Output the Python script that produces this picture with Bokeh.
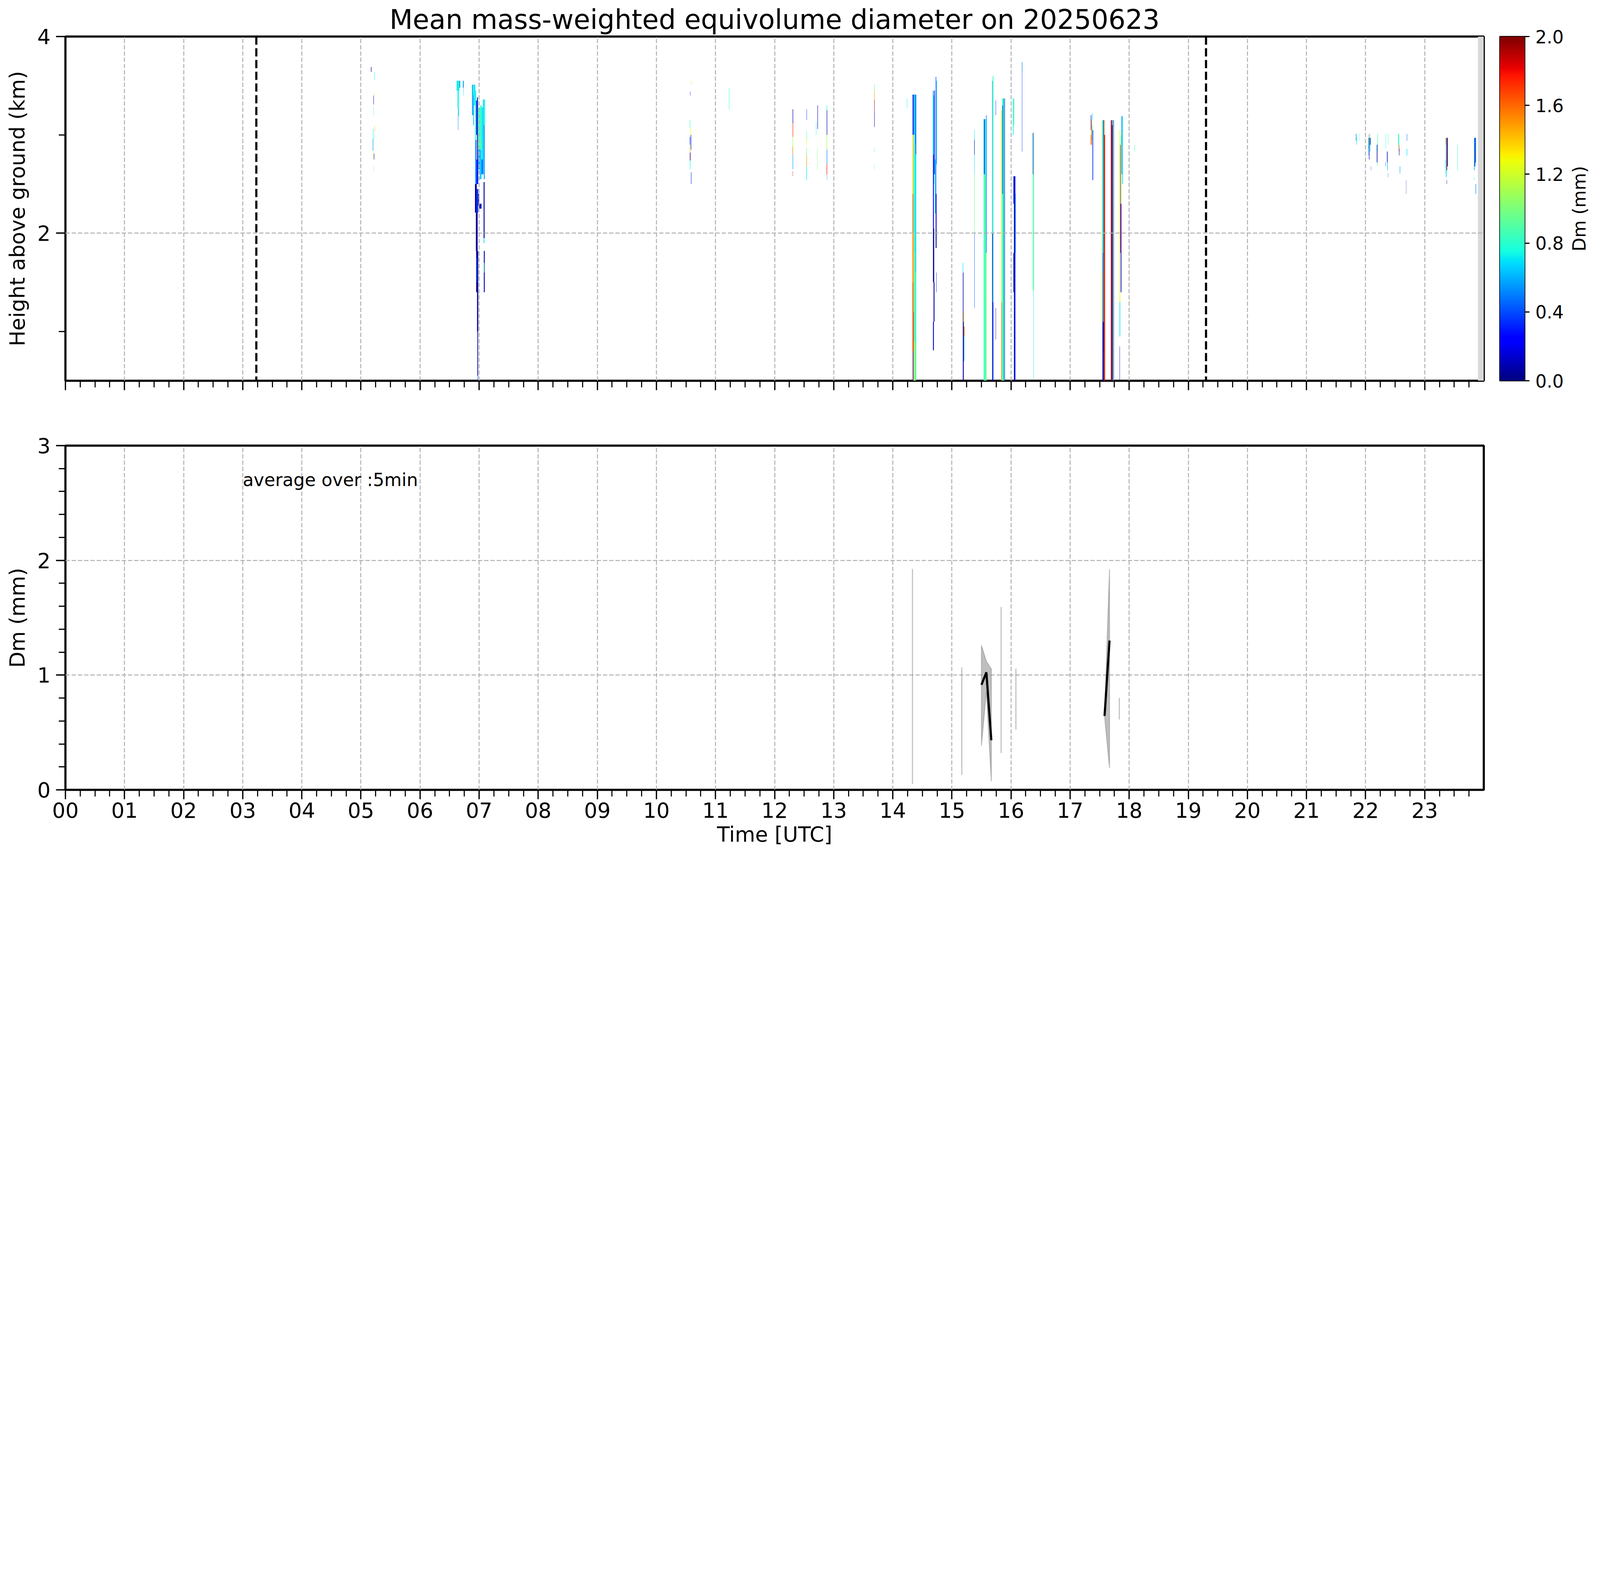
import numpy as np
from bokeh.plotting import figure
from bokeh.models import (ColumnDataSource, LinearColorMapper, FixedTicker, Span, Label,
                          Range1d, PrintfTickFormatter, LinearAxis, CustomJSTickFormatter)
from bokeh.layouts import column, row
from bokeh.embed import file_html
from bokeh.resources import INLINE
from bokeh.core.properties import value

# ---------------- data ----------------
TITLE = "Mean mass-weighted equivolume diameter on 20250623"
sunrise_h = 3.23
sunset_h = 19.30
missing_start_h = 23.9
missing_end_h = 24.0

# time-height cells: (t_start [h], t_end [h], h_bottom [km], h_top [km], Dm [mm])
cells_0512 = [
    (5.170, 5.178, 3.64, 3.69, 0.10), (5.228, 5.234, 3.56, 3.64, 0.75),
    (5.222, 5.226, 3.40, 3.44, 1.25), (5.212, 5.218, 3.31, 3.40, 0.08),
    (5.210, 5.216, 3.20, 3.28, 0.95), (5.228, 5.234, 3.04, 3.09, 1.40),
    (5.205, 5.212, 2.96, 3.06, 0.75), (5.200, 5.208, 2.84, 2.96, 0.55),
    (5.228, 5.234, 2.96, 3.00, 0.95), (5.210, 5.216, 2.75, 2.84, 1.20),
    (5.220, 5.226, 2.75, 2.81, 0.10), (5.214, 5.218, 2.62, 2.68, 1.00),
]
cells_0637 = [
    (6.617, 6.630, 3.45, 3.55, 0.85), (6.630, 6.645, 3.45, 3.55, 0.65),
    (6.645, 6.665, 3.45, 3.55, 0.75), (6.665, 6.680, 3.48, 3.55, 0.55),
    (6.635, 6.645, 3.28, 3.45, 0.70), (6.648, 6.660, 3.19, 3.45, 0.75),
    (6.643, 6.648, 3.05, 3.28, 0.45), (6.725, 6.740, 3.48, 3.55, 0.55),
    (6.735, 6.740, 3.40, 3.48, 0.65),
]
cells_0700 = [
    (6.880, 6.900, 3.20, 3.51, 0.60), (6.900, 6.915, 3.40, 3.51, 0.75),
    (6.900, 6.910, 3.10, 3.40, 0.55), (6.915, 6.935, 3.30, 3.51, 0.70),
    (6.935, 6.950, 2.95, 3.45, 0.75), (6.950, 6.965, 3.00, 3.35, 0.35),
    (6.965, 6.980, 2.75, 3.38, 0.10), (6.980, 7.000, 2.85, 3.28, 0.80),
    (7.000, 7.020, 2.95, 3.28, 0.85), (7.020, 7.045, 2.85, 3.30, 0.80),
    (7.045, 7.065, 2.75, 3.28, 0.70), (7.065, 7.080, 2.60, 3.36, 0.65),
    (7.080, 7.100, 3.10, 3.36, 0.75), (7.080, 7.095, 2.55, 3.10, 0.55),
    (7.000, 7.030, 2.85, 2.95, 0.95),
    (6.935, 6.955, 2.50, 2.95, 0.50), (6.955, 6.985, 2.50, 2.75, 0.30),
    (6.985, 7.010, 2.65, 2.85, 0.55), (7.010, 7.040, 2.55, 2.85, 0.65),
    (7.040, 7.065, 2.60, 2.75, 0.45),
    (6.930, 6.960, 2.21, 2.50, 0.06), (6.960, 6.985, 2.21, 2.45, 0.35),
    (6.985, 7.000, 2.28, 2.40, 0.15), (7.000, 7.040, 2.25, 2.30, 0.08),
    (6.945, 6.975, 1.82, 2.21, 0.05), (6.950, 6.985, 1.40, 1.82, 0.05),
    (6.958, 6.970, 1.50, 1.75, 0.40), (6.965, 6.985, 1.00, 1.40, 0.05),
    (6.970, 6.982, 0.55, 1.00, 0.10), (6.975, 6.982, 0.50, 0.55, 0.40),
    (7.076, 7.092, 1.95, 2.52, 0.06), (7.078, 7.090, 1.90, 1.95, 0.70),
    (7.080, 7.095, 1.40, 1.82, 0.10), (7.082, 7.090, 1.60, 1.70, 0.85),
]
cells_1034 = [
    (10.585, 10.590, 3.51, 3.55, 1.15), (10.570, 10.575, 3.40, 3.44, 0.30),
    (10.565, 10.572, 3.07, 3.15, 0.85), (10.572, 10.580, 2.98, 3.07, 1.25),
    (10.565, 10.572, 2.90, 2.98, 0.10), (10.568, 10.575, 2.82, 2.90, 1.45),
    (10.565, 10.572, 2.74, 2.82, 0.45), (10.572, 10.578, 2.74, 2.82, 1.85),
    (10.568, 10.576, 2.65, 2.74, 0.75), (10.582, 10.590, 2.85, 3.00, 0.35),
    (10.585, 10.592, 2.50, 2.62, 0.35), (11.228, 11.234, 3.26, 3.48, 0.80),
]
cells_1218 = [
    (12.305, 12.313, 3.12, 3.26, 0.08), (12.305, 12.313, 2.98, 3.12, 1.70),
    (12.305, 12.313, 2.88, 2.98, 1.10), (12.303, 12.311, 2.80, 2.88, 1.55),
    (12.305, 12.313, 2.65, 2.80, 0.60), (12.306, 12.310, 2.58, 2.63, 1.85),
    (12.540, 12.546, 3.15, 3.26, 0.40), (12.540, 12.546, 2.95, 3.04, 0.90),
    (12.540, 12.546, 2.89, 2.95, 1.30), (12.538, 12.546, 2.78, 2.87, 1.00),
    (12.538, 12.546, 2.68, 2.78, 1.50), (12.538, 12.546, 2.54, 2.68, 0.70),
    (12.725, 12.732, 3.06, 3.30, 0.10), (12.700, 12.705, 3.00, 3.13, 0.75),
    (12.720, 12.725, 2.65, 2.87, 1.00), (12.880, 12.888, 3.25, 3.30, 0.75),
    (12.882, 12.890, 3.00, 3.25, 0.08), (12.880, 12.888, 2.85, 3.00, 1.10),
    (12.882, 12.890, 2.70, 2.85, 0.50), (12.880, 12.888, 2.60, 2.70, 1.80),
    (12.884, 12.888, 2.54, 2.60, 0.50),
    (13.686, 13.692, 3.45, 3.52, 0.90), (13.686, 13.692, 3.36, 3.45, 1.50),
    (13.686, 13.692, 3.24, 3.36, 1.90), (13.686, 13.692, 3.08, 3.24, 0.10),
    (13.686, 13.692, 2.82, 2.86, 0.95), (13.688, 13.692, 2.65, 2.70, 0.80),
]
cells_1414 = [
    (14.240, 14.245, 3.27, 3.37, 0.70),
    (14.335, 14.350, 3.00, 3.41, 0.15), (14.350, 14.365, 3.00, 3.41, 0.55),
    (14.365, 14.380, 2.90, 3.41, 0.70), (14.380, 14.396, 2.80, 3.41, 0.45),
    (14.335, 14.345, 2.40, 3.00, 1.45), (14.345, 14.360, 2.00, 3.00, 1.05),
    (14.360, 14.375, 1.80, 2.90, 0.80), (14.375, 14.396, 1.60, 2.80, 0.70),
    (14.335, 14.345, 1.50, 2.40, 1.75), (14.345, 14.360, 1.20, 2.00, 1.35),
    (14.360, 14.375, 0.90, 1.80, 0.95), (14.375, 14.396, 0.50, 1.60, 0.75),
    (14.335, 14.345, 0.80, 1.50, 1.90), (14.345, 14.360, 0.50, 1.20, 1.55),
    (14.360, 14.375, 0.50, 0.90, 1.20), (14.335, 14.345, 0.50, 0.80, 0.35),
    (14.678, 14.690, 2.80, 3.45, 0.55), (14.690, 14.700, 2.50, 3.40, 0.70),
    (14.700, 14.712, 2.60, 3.45, 0.30), (14.725, 14.735, 2.40, 3.59, 0.45),
    (14.735, 14.745, 2.70, 3.55, 0.60), (14.680, 14.695, 2.05, 2.80, 0.20),
    (14.712, 14.725, 2.20, 2.75, 0.65), (14.725, 14.740, 2.05, 2.40, 0.15),
    (14.680, 14.700, 1.50, 2.05, 0.05), (14.690, 14.705, 1.10, 1.50, 0.06),
    (14.680, 14.695, 0.81, 1.10, 0.15), (14.725, 14.740, 1.85, 2.05, 0.05),
    (14.735, 14.740, 1.40, 1.60, 0.10),
]
cells_1510 = [
    (15.185, 15.192, 1.60, 1.70, 0.70), (15.185, 15.195, 1.10, 1.60, 0.08),
    (15.195, 15.205, 0.95, 1.20, 1.35), (15.185, 15.200, 0.50, 1.10, 0.05),
    (15.200, 15.210, 0.70, 0.95, 0.60), (15.205, 15.212, 0.95, 1.05, 1.80),
    (15.380, 15.386, 2.60, 3.05, 0.70), (15.380, 15.386, 2.00, 2.60, 0.95),
    (15.380, 15.386, 1.24, 2.00, 0.45), (15.378, 15.384, 2.80, 2.95, 0.08),
    (15.537, 15.550, 0.50, 3.16, 0.85), (15.550, 15.565, 0.50, 3.16, 0.95),
    (15.565, 15.578, 0.50, 3.16, 0.75), (15.578, 15.588, 1.80, 3.20, 0.50),
    (15.578, 15.588, 0.50, 1.80, 1.05), (15.540, 15.560, 2.60, 3.16, 0.45),
    (15.681, 15.690, 2.00, 3.55, 0.60), (15.690, 15.703, 2.00, 3.60, 0.85),
    (15.681, 15.692, 0.50, 2.00, 0.06), (15.692, 15.703, 0.50, 1.30, 0.35),
    (15.692, 15.703, 1.30, 2.00, 0.65), (15.740, 15.745, 0.92, 1.24, 0.10),
    (15.740, 15.745, 3.20, 3.35, 0.30),
    (15.835, 15.850, 0.50, 3.25, 1.15), (15.850, 15.865, 0.50, 3.37, 0.95),
    (15.865, 15.880, 0.50, 3.37, 0.65), (15.880, 15.890, 0.50, 3.37, 0.85),
    (15.890, 15.897, 0.50, 3.37, 0.30), (15.835, 15.845, 0.50, 1.30, 1.55),
    (15.855, 15.862, 2.40, 3.30, 0.10),
]
cells_1602 = [
    (16.033, 16.045, 3.00, 3.37, 0.75), (16.045, 16.055, 3.10, 3.37, 0.90),
    (16.040, 16.050, 2.30, 2.58, 0.30), (16.050, 16.065, 0.50, 2.58, 0.08),
    (16.065, 16.075, 0.50, 2.58, 0.35), (16.040, 16.050, 1.40, 1.80, 0.06),
    (16.075, 16.082, 1.80, 2.40, 0.55),
    (16.185, 16.190, 2.83, 3.74, 0.35), (16.190, 16.194, 3.65, 3.74, 0.85),
    (16.368, 16.378, 2.60, 3.02, 0.30), (16.378, 16.390, 1.42, 3.02, 0.95),
    (16.368, 16.378, 1.42, 2.60, 0.85), (16.380, 16.385, 0.50, 1.42, 0.70),
]
cells_1721 = [
    (17.350, 17.358, 3.05, 3.20, 0.10), (17.358, 17.368, 2.90, 3.15, 1.60),
    (17.368, 17.378, 2.95, 3.10, 0.95), (17.378, 17.390, 2.54, 3.05, 0.35),
    (17.372, 17.380, 3.15, 3.22, 0.70), (17.350, 17.358, 2.90, 3.00, 1.70),
    (17.536, 17.548, 1.60, 3.15, 1.10), (17.548, 17.558, 1.80, 3.15, 0.75),
    (17.558, 17.570, 0.80, 3.15, 0.45), (17.570, 17.580, 0.50, 3.15, 1.70),
    (17.580, 17.592, 0.50, 3.00, 1.85), (17.536, 17.550, 1.10, 1.60, 1.30),
    (17.548, 17.570, 0.50, 1.10, 0.06), (17.550, 17.558, 1.10, 1.80, 0.40),
    (17.688, 17.697, 0.50, 3.15, 1.75), (17.697, 17.708, 0.50, 3.15, 0.06),
    (17.708, 17.718, 0.50, 3.10, 1.90), (17.718, 17.728, 0.50, 3.15, 0.30),
    (17.728, 17.736, 0.50, 3.15, 1.20), (17.736, 17.744, 0.50, 3.15, 0.55),
    (17.837, 17.848, 1.30, 3.05, 1.25), (17.848, 17.856, 1.80, 2.90, 1.80),
    (17.856, 17.868, 1.40, 2.30, 0.25), (17.868, 17.880, 2.60, 3.19, 0.55),
    (17.880, 17.892, 2.50, 3.19, 0.70), (17.837, 17.848, 0.95, 1.30, 0.70),
    (17.837, 17.842, 0.50, 0.85, 0.08), (17.860, 17.868, 2.30, 3.00, 0.85),
    (18.090, 18.096, 2.83, 2.90, 0.85),
]
cells_2150 = [
    (21.835, 21.845, 2.94, 3.01, 0.55), (21.845, 21.852, 2.90, 2.97, 0.70),
    (21.898, 21.902, 2.94, 3.01, 0.75),
    (22.043, 22.050, 2.79, 2.97, 0.60), (22.050, 22.058, 2.86, 3.01, 0.80),
    (22.058, 22.066, 2.75, 2.97, 0.08), (22.066, 22.072, 2.90, 3.01, 1.60),
    (22.072, 22.080, 2.83, 2.97, 0.70), (22.080, 22.087, 2.90, 2.97, 0.10),
    (22.090, 22.094, 2.64, 2.68, 0.40),
    (22.190, 22.200, 2.72, 2.90, 0.08), (22.200, 22.208, 2.83, 3.01, 0.85),
    (22.195, 22.200, 2.68, 2.72, 0.90),
    (22.340, 22.345, 2.86, 3.01, 0.75), (22.378, 22.383, 2.90, 3.01, 0.85),
    (22.362, 22.372, 2.72, 2.83, 0.08), (22.366, 22.375, 2.64, 2.72, 0.65),
    (22.335, 22.340, 2.68, 2.72, 0.40), (22.380, 22.384, 2.57, 2.61, 0.45),
    (22.548, 22.558, 2.90, 3.01, 0.95), (22.558, 22.568, 2.86, 3.01, 0.75),
    (22.562, 22.570, 2.83, 2.90, 1.65), (22.565, 22.572, 2.79, 2.86, 0.10),
    (22.578, 22.585, 2.61, 2.68, 0.55),
    (22.697, 22.703, 2.94, 3.01, 0.45), (22.695, 22.703, 2.79, 2.86, 0.70),
    (22.686, 22.689, 2.40, 2.54, 0.08),
    (23.353, 23.360, 2.90, 2.97, 1.55), (23.360, 23.370, 2.57, 2.97, 0.65),
    (23.370, 23.380, 2.64, 2.97, 1.85), (23.380, 23.391, 2.68, 2.97, 0.06),
    (23.355, 23.362, 2.61, 2.75, 0.75), (23.372, 23.377, 2.50, 2.54, 0.10),
    (23.553, 23.559, 2.64, 2.90, 0.80),
    (23.835, 23.845, 2.64, 2.97, 0.60), (23.845, 23.855, 2.68, 2.97, 0.08),
    (23.855, 23.868, 2.72, 2.97, 0.45), (23.838, 23.842, 2.79, 2.83, 1.55),
    (23.835, 23.840, 2.54, 2.57, 0.70), (23.862, 23.870, 2.40, 2.50, 0.50),
]

# 5-minute averages at the ground (hours, mm)
avg_time = [14.333, 15.167, 15.500, 15.583, 15.667, 15.833, 16.083, 17.583, 17.667, 17.833]
avg_mean = [0.99, 0.60, 0.915, 1.024, 0.432, 0.96, 0.79, 0.644, 1.301, 0.71]
avg_min = [0.049, 0.130, 0.385, 0.859, 0.073, 0.321, 0.525, 0.644, 0.190, 0.613]
avg_max = [1.925, 1.067, 1.258, 1.120, 1.053, 1.594, 1.057, 0.644, 1.924, 0.802]

hour_ticks = list(range(24))
cbar_ticks = [0.0, 0.4, 0.8, 1.2, 1.6, 2.0]
cbar_label = "Dm (mm)"

# ---------------- styling ----------------
S = 4096.0 / 7442.0   # CSS px per reference pixel (page is photographed at a higher pixel ratio)
FONT = "DejaVu Sans"


def px(v):
    return int(round(v * S))


def fs(v):
    return "%.1fpx" % (v * S)


TICK_PX = fs(97)
SMALL_PX = fs(83)
LEFT = px(318) - 8
FRAME_W = px(6598)
FRAME_H = px(1600)
TOP_B = px(184) - 8
BOT_B = px(150)


def jet_palette(n=256):
    x = np.linspace(0, 1, n)
    r = np.interp(x, [0, 0.35, 0.66, 0.89, 1], [0, 0, 1, 1, 0.5])
    g = np.interp(x, [0, 0.125, 0.375, 0.64, 0.91, 1], [0, 0, 1, 1, 0, 0])
    b = np.interp(x, [0, 0.11, 0.34, 0.65, 1], [0.5, 1, 1, 0, 0])
    return ["#%02x%02x%02x" % (int(round(255 * a)), int(round(255 * c)), int(round(255 * d)))
            for a, c, d in zip(r, g, b)]


mapper = LinearColorMapper(palette=jet_palette(), low=0.0, high=2.0)


def style_axis(ax, label_size=TICK_PX):
    ax.axis_line_color = None
    ax.major_tick_out = px(44)
    ax.major_tick_in = 0
    ax.major_tick_line_width = 6 * S
    ax.major_tick_line_color = "black"
    ax.minor_tick_out = px(30)
    ax.minor_tick_in = 0
    ax.minor_tick_line_width = 5 * S
    ax.minor_tick_line_color = "black"
    ax.major_label_text_font = FONT
    ax.major_label_text_font_size = label_size
    ax.major_label_text_color = "black"
    ax.axis_label_text_font = FONT
    ax.axis_label_text_font_size = TICK_PX
    ax.axis_label_text_font_style = "normal"
    ax.axis_label_text_color = "black"


def style_grid(p, yticks, level):
    p.xgrid.ticker = FixedTicker(ticks=hour_ticks)
    p.ygrid.ticker = FixedTicker(ticks=yticks)
    for g in (p.xgrid[0], p.ygrid[0]):
        g.grid_line_color = "#b0b0b0"
        g.grid_line_width = 4.5 * S
        g.grid_line_dash = "%d %d" % (px(20), px(9))
        g.level = level


minor_x = [h + q for h in range(24) for q in (0.25, 0.5, 0.75)]
hour_fmt = CustomJSTickFormatter(code="var h = Math.round(tick); return (h < 10 ? '0' : '') + h;")
blank_fmt = CustomJSTickFormatter(code="return '';")

# ---------------- top panel ----------------
all_cells = (cells_0512 + cells_0637 + cells_0700 + cells_1034 + cells_1218 + cells_1414
             + cells_1510 + cells_1602 + cells_1721 + cells_2150)
mesh = ColumnDataSource(dict(
    left=[c[0] for c in all_cells], right=[c[1] for c in all_cells],
    bottom=[c[2] for c in all_cells], top=[c[3] for c in all_cells],
    dm=[c[4] for c in all_cells]))

top = figure(frame_width=FRAME_W, frame_height=FRAME_H, x_range=Range1d(0, 24),
             y_range=Range1d(0.5, 4.0), output_backend="svg", toolbar_location=None,
             min_border_left=LEFT, min_border_top=TOP_B, min_border_bottom=BOT_B,
             min_border_right=px(10))
top.title.text = TITLE
top.title.text_font = FONT
top.title.text_font_size = fs(125)
top.title.text_font_style = "normal"
top.title.text_color = "black"
top.title.align = "center"
top.title.standoff = px(14)
top.outline_line_color = "black"
top.outline_line_width = 10 * S
style_grid(top, [2], "annotation")

top.quad(left=missing_start_h, right=missing_end_h, bottom=0.5, top=4.0,
         fill_color="#d9d9d9", line_color=None)
top.quad(left="left", right="right", bottom="bottom", top="top", source=mesh,
         fill_color={"field": "dm", "transform": mapper}, line_color=None)

for loc in (sunrise_h, sunset_h):
    top.add_layout(Span(location=loc, dimension="height", line_color="black",
                        line_width=10 * S, line_dash="%d %d" % (px(38), px(17))))

top.xaxis.ticker = FixedTicker(ticks=hour_ticks, minor_ticks=minor_x)
top.xaxis.formatter = blank_fmt
top.yaxis.ticker = FixedTicker(ticks=[2, 4], minor_ticks=[1, 3])
style_axis(top.xaxis[0])
style_axis(top.yaxis[0])
top.xaxis.major_label_standoff = 0
top.yaxis.axis_label = "Height above ground (km)"
top.yaxis.major_label_standoff = px(26)
top.yaxis.axis_label_standoff = px(30)

# ---------------- colour bar ----------------
cb = figure(frame_width=px(117), frame_height=FRAME_H, x_range=Range1d(0, 1),
            y_range=Range1d(0, 2), output_backend="svg", toolbar_location=None,
            min_border_left=px(64), min_border_top=TOP_B, min_border_bottom=BOT_B,
            min_border_right=px(190))
cb.image(image=[np.linspace(0, 2, 256).reshape(256, 1)], x=0, y=0, dw=1, dh=2,
         color_mapper=mapper)
cb.xaxis.visible = False
cb.yaxis.visible = False
cb.xgrid.visible = False
cb.ygrid.visible = False
cb.outline_line_color = "black"
cb.outline_line_width = 5 * S
cax = LinearAxis(ticker=FixedTicker(ticks=cbar_ticks, minor_ticks=[]),
                 formatter=PrintfTickFormatter(format="%.1f"))
style_axis(cax, SMALL_PX)
cax.major_tick_out = px(22)
cax.major_tick_line_width = 5 * S
cax.major_label_standoff = px(28)
cb.add_layout(cax, "right")

# colour-bar label, drawn in a narrow strip to the right (reads bottom to top)
lab = figure(frame_width=px(120), frame_height=FRAME_H, x_range=Range1d(0, 1),
             y_range=Range1d(0, 2), output_backend="svg", toolbar_location=None,
             min_border_left=0, min_border_right=0, min_border_top=TOP_B,
             min_border_bottom=BOT_B)
lab.xaxis.visible = False
lab.yaxis.visible = False
lab.xgrid.visible = False
lab.ygrid.visible = False
lab.outline_line_color = None
lab.text(x=[0.53], y=[1.0], text=[cbar_label], angle=np.pi / 2, text_align="center",
         text_baseline="middle", text_font=value(FONT), text_font_size=SMALL_PX,
         text_color="black")

# ---------------- bottom panel ----------------
bot = figure(frame_width=FRAME_W, frame_height=FRAME_H, x_range=Range1d(0, 24),
             y_range=Range1d(0, 3), output_backend="svg", toolbar_location=None,
             min_border_left=LEFT, min_border_top=px(151), min_border_bottom=px(318),
             min_border_right=px(10))
bot.outline_line_color = "black"
bot.outline_line_width = 10 * S
style_grid(bot, [1, 2], "underlay")

# split the 5-minute series into runs of consecutive samples
runs, cur = [], [0]
for i in range(1, len(avg_time)):
    if avg_time[i] - avg_time[i - 1] < 0.1:
        cur.append(i)
    else:
        runs.append(cur)
        cur = [i]
runs.append(cur)

for r in runs:
    t = [avg_time[i] for i in r]
    lo = [avg_min[i] for i in r]
    hi = [avg_max[i] for i in r]
    if len(r) == 1:
        bot.segment(x0=t[0], y0=lo[0], x1=t[0], y1=hi[0], line_color="#808080",
                    line_alpha=0.5, line_width=5 * S)
    else:
        bot.patch(x=t + t[::-1], y=hi + lo[::-1], fill_color="#808080", fill_alpha=0.5,
                  line_color="#808080", line_alpha=0.5, line_width=4 * S)
        bot.line(x=t, y=[avg_mean[i] for i in r], line_color="black", line_width=10 * S)

bot.add_layout(Label(x=3.0, y=2.7, text="average over :5min", text_font=FONT,
                     text_font_size=SMALL_PX, text_baseline="alphabetic", text_color="black"))

bot.xaxis.ticker = FixedTicker(ticks=hour_ticks, minor_ticks=minor_x)
bot.xaxis.formatter = hour_fmt
bot.yaxis.ticker = FixedTicker(ticks=[0, 1, 2, 3],
                               minor_ticks=[0.2, 0.4, 0.6, 0.8, 1.2, 1.4, 1.6, 1.8,
                                            2.2, 2.4, 2.6, 2.8])
style_axis(bot.xaxis[0])
style_axis(bot.yaxis[0])
bot.xaxis.axis_label = "Time [UTC]"
bot.xaxis.major_label_standoff = px(14)
bot.xaxis.axis_label_standoff = px(15)
bot.yaxis.axis_label = "Dm (mm)"
bot.yaxis.major_label_standoff = px(26)
bot.yaxis.axis_label_standoff = px(30)

layout = column(row(top, cb, lab), bot)
open("out.html", "w").write(file_html(layout, INLINE, title=TITLE))
